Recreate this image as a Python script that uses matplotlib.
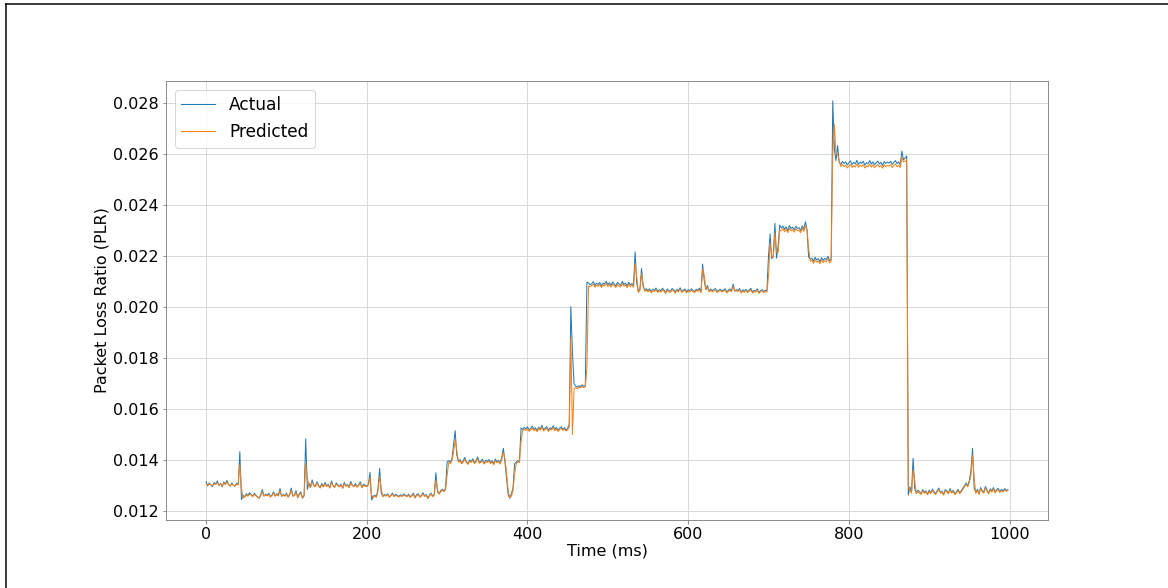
import numpy as np
import matplotlib
matplotlib.use("Agg")
import matplotlib.pyplot as plt
from matplotlib.lines import Line2D

# packet loss ratio in units of 1e-5, one sample every 2 ms
actual_e5 = [
    1315, 1298, 1310, 1302, 1296, 1312, 1305, 1318, 1300, 1308, 1295, 1314, 1306, 1320, 1303, 1298, 1310, 1301, 1297, 1309, 1304, 1433, 1245, 1262, 1255,
    1268, 1260, 1272, 1265, 1258, 1270, 1262, 1255, 1250, 1264, 1284, 1258, 1266, 1261, 1270, 1256, 1263, 1275, 1259, 1268, 1262, 1288, 1257, 1265, 1260,
    1270, 1255, 1266, 1290, 1258, 1264, 1280, 1252, 1268, 1275, 1250, 1262, 1483, 1285, 1310, 1295, 1322, 1302, 1298, 1315, 1300, 1292, 1308, 1296, 1312,
    1298, 1305, 1291, 1318, 1300, 1294, 1310, 1302, 1296, 1306, 1290, 1312, 1299, 1304, 1293, 1316, 1301, 1297, 1308, 1295, 1303, 1314, 1292, 1306, 1300,
    1298, 1305, 1352, 1243, 1258, 1262, 1255, 1290, 1367, 1270, 1258, 1265, 1260, 1268, 1255, 1263, 1270, 1258, 1266, 1261, 1257, 1264, 1259, 1267, 1262,
    1258, 1266, 1255, 1262, 1270, 1252, 1264, 1268, 1256, 1261, 1272, 1259, 1265, 1250, 1263, 1270, 1258, 1266, 1350, 1275, 1268, 1280, 1285, 1278, 1290,
    1392, 1398, 1390, 1405, 1460, 1515, 1420, 1395, 1402, 1388, 1397, 1410, 1393, 1386, 1400, 1394, 1405, 1389, 1398, 1412, 1391, 1396, 1403, 1387, 1399,
    1395, 1402, 1390, 1398, 1385, 1404, 1393, 1399, 1388, 1410, 1446, 1392, 1328, 1263, 1250, 1268, 1290, 1385, 1392, 1398, 1394, 1526, 1520, 1528, 1522,
    1530, 1518, 1524, 1533, 1520, 1527, 1515, 1529, 1522, 1536, 1519, 1525, 1531, 1517, 1526, 1523, 1534, 1520, 1528, 1516, 1525, 1530, 1521, 1527, 1518,
    1524, 1540, 2002, 1821, 1700, 1690, 1686, 1692, 1688, 1695, 1689, 1693, 2098, 2095, 2088, 2092, 2100, 2085, 2094, 2089, 2097, 2083, 2095, 2090, 2102,
    2088, 2096, 2085, 2099, 2091, 2083, 2097, 2090, 2086, 2101, 2089, 2094, 2082, 2098, 2087, 2093, 2084, 2217, 2095, 2060, 2072, 2151, 2080, 2066, 2072,
    2064, 2072, 2060, 2070, 2066, 2075, 2061, 2069, 2063, 2074, 2067, 2058, 2071, 2065, 2062, 2073, 2068, 2059, 2070, 2064, 2076, 2062, 2067, 2071, 2060,
    2069, 2063, 2072, 2065, 2061, 2070, 2066, 2074, 2060, 2169, 2105, 2068, 2085, 2062, 2071, 2064, 2069, 2073, 2061, 2067, 2070, 2063, 2068, 2072, 2060,
    2066, 2071, 2064, 2090, 2062, 2069, 2065, 2073, 2058, 2068, 2063, 2070, 2061, 2067, 2074, 2059, 2066, 2062, 2072, 2057, 2064, 2069, 2061, 2066, 2063,
    2200, 2287, 2190, 2205, 2329, 2192, 2240, 2322, 2310, 2318, 2305, 2315, 2300, 2320, 2308, 2314, 2303, 2317, 2309, 2312, 2301, 2319, 2306, 2335, 2300,
    2195, 2188, 2192, 2180, 2196, 2185, 2190, 2178, 2194, 2183, 2191, 2187, 2199, 2182, 2189, 2809, 2620, 2575, 2634, 2568, 2560, 2572, 2563, 2570, 2558,
    2566, 2574, 2559, 2568, 2562, 2576, 2560, 2569, 2564, 2572, 2557, 2567, 2563, 2575, 2561, 2570, 2558, 2566, 2573, 2562, 2568, 2556, 2571, 2564, 2569,
    2565, 2572, 2560, 2568, 2575, 2563, 2570, 2558, 2612, 2578, 2585, 2593, 1262, 1295, 1272, 1407, 1288, 1270, 1282, 1275, 1268, 1284, 1273, 1279, 1266,
    1282, 1271, 1286, 1275, 1268, 1280, 1290, 1273, 1277, 1265, 1284, 1279, 1270, 1288, 1274, 1281, 1267, 1276, 1285, 1272, 1279, 1290, 1300, 1310, 1298,
    1320, 1360, 1446, 1290, 1272, 1285, 1268, 1292, 1280, 1274, 1296, 1283, 1270, 1287, 1278, 1292, 1275, 1283, 1289, 1276, 1285, 1279, 1288, 1281, 1284,
]

predicted_e5 = [
    1306, 1302, 1305, 1303, 1299, 1307, 1304, 1311, 1302, 1305, 1298, 1309, 1304, 1314, 1303, 1299, 1306, 1301, 1298, 1305, 1302, 1382, 1292, 1250, 1256,
    1262, 1258, 1266, 1263, 1256, 1265, 1260, 1254, 1251, 1259, 1275, 1260, 1262, 1259, 1265, 1255, 1260, 1270, 1258, 1264, 1259, 1279, 1260, 1261, 1258,
    1265, 1254, 1262, 1282, 1259, 1260, 1273, 1253, 1263, 1270, 1252, 1258, 1387, 1330, 1298, 1292, 1313, 1299, 1295, 1309, 1298, 1290, 1303, 1294, 1306,
    1296, 1301, 1290, 1311, 1298, 1292, 1305, 1300, 1294, 1302, 1289, 1307, 1297, 1300, 1291, 1309, 1299, 1295, 1303, 1293, 1300, 1308, 1291, 1302, 1297,
    1296, 1301, 1330, 1262, 1252, 1258, 1254, 1280, 1335, 1290, 1256, 1261, 1258, 1264, 1254, 1260, 1266, 1256, 1262, 1258, 1255, 1260, 1257, 1263, 1259,
    1256, 1262, 1254, 1259, 1265, 1251, 1260, 1264, 1254, 1258, 1267, 1257, 1261, 1249, 1259, 1266, 1256, 1262, 1320, 1285, 1266, 1275, 1281, 1276, 1284,
    1340, 1390, 1386, 1398, 1430, 1480, 1440, 1392, 1396, 1385, 1392, 1403, 1389, 1383, 1395, 1390, 1399, 1385, 1393, 1405, 1387, 1391, 1397, 1384, 1393,
    1390, 1396, 1386, 1393, 1381, 1398, 1389, 1393, 1384, 1402, 1430, 1405, 1350, 1280, 1252, 1258, 1278, 1345, 1385, 1392, 1390, 1470, 1515, 1520, 1516,
    1522, 1513, 1518, 1526, 1515, 1521, 1511, 1523, 1517, 1529, 1514, 1520, 1525, 1512, 1520, 1518, 1527, 1515, 1522, 1512, 1519, 1524, 1516, 1521, 1514,
    1518, 1530, 1880, 1500, 1680, 1684, 1680, 1686, 1683, 1689, 1684, 1687, 1760, 2082, 2080, 2085, 2090, 2078, 2086, 2082, 2089, 2077, 2087, 2083, 2093,
    2081, 2088, 2079, 2091, 2084, 2077, 2089, 2083, 2079, 2093, 2082, 2087, 2076, 2090, 2080, 2086, 2078, 2171, 2120, 2058, 2066, 2130, 2090, 2062, 2066,
    2060, 2067, 2056, 2065, 2061, 2069, 2057, 2064, 2059, 2068, 2062, 2054, 2066, 2060, 2058, 2067, 2063, 2055, 2065, 2060, 2070, 2058, 2062, 2066, 2056,
    2064, 2059, 2067, 2061, 2057, 2065, 2062, 2068, 2056, 2150, 2125, 2070, 2078, 2060, 2066, 2060, 2064, 2068, 2057, 2062, 2065, 2059, 2063, 2067, 2056,
    2061, 2066, 2060, 2080, 2065, 2064, 2061, 2068, 2055, 2063, 2059, 2065, 2057, 2062, 2069, 2055, 2061, 2058, 2067, 2054, 2060, 2064, 2057, 2061, 2059,
    2120, 2250, 2200, 2195, 2290, 2215, 2215, 2300, 2300, 2308, 2296, 2305, 2292, 2310, 2299, 2304, 2294, 2307, 2300, 2302, 2292, 2309, 2297, 2320, 2305,
    2230, 2180, 2184, 2172, 2187, 2177, 2181, 2170, 2185, 2175, 2182, 2178, 2190, 2174, 2180, 2600, 2717, 2600, 2600, 2575, 2552, 2560, 2551, 2557, 2546,
    2554, 2560, 2548, 2556, 2550, 2562, 2549, 2557, 2552, 2559, 2546, 2555, 2551, 2561, 2549, 2558, 2547, 2554, 2560, 2550, 2556, 2545, 2558, 2552, 2556,
    2553, 2559, 2548, 2556, 2562, 2551, 2557, 2547, 2590, 2570, 2572, 2580, 1300, 1282, 1270, 1360, 1320, 1268, 1276, 1271, 1265, 1279, 1269, 1275, 1263,
    1277, 1268, 1281, 1271, 1265, 1276, 1285, 1270, 1273, 1262, 1279, 1275, 1267, 1283, 1270, 1277, 1264, 1272, 1280, 1268, 1275, 1285, 1295, 1304, 1295,
    1312, 1340, 1420, 1330, 1270, 1280, 1265, 1287, 1276, 1270, 1290, 1279, 1267, 1282, 1274, 1287, 1271, 1279, 1284, 1272, 1280, 1275, 1283, 1277, 1280,
]

time_ms = np.arange(len(actual_e5)) * 2
actual = np.array(actual_e5) * 1e-5
predicted = np.array(predicted_e5) * 1e-5

plt.rcParams['font.family'] = 'DejaVu Sans'

### figure drawn at 72 dpi so points map to pixels like the original
fig = plt.figure(figsize=(1168 / 72, 588 / 72), dpi=72)
fig.set_facecolor('white')
ax = fig.add_axes([166 / 1168, 1 - 520 / 588, (1048 - 166) / 1168, (520 - 81) / 588])

ax.plot(time_ms, actual, color='tab:blue', lw=1.0, label='Actual')
ax.plot(time_ms, predicted, color='tab:orange', lw=1.0, label='Predicted')

ax.grid(True, color='#d9d9d9', linewidth=1.0)
ax.set_axisbelow(True)
for s in ax.spines.values():
    s.set_color('0.45')

ax.set_yticks([0.012, 0.014, 0.016, 0.018, 0.020, 0.022, 0.024, 0.026, 0.028])
ax.tick_params(labelsize=16, color='0.45')
ax.set_xlabel('Time (ms)', fontsize=16, labelpad=2)
ax.set_ylabel('Packet Loss Ratio (PLR)', fontsize=16)
ax.legend(loc='upper left', fontsize=17)

### frame lines at the top and left edge of the picture
fig.add_artist(Line2D([6 / 1168, 1], [1 - 4 / 588, 1 - 4 / 588], transform=fig.transFigure,
                      color='black', lw=1.5))
fig.add_artist(Line2D([6 / 1168, 6 / 1168], [0, 1 - 4 / 588], transform=fig.transFigure,
                      color='black', lw=1.5))

fig.savefig('out.png', dpi=72)
